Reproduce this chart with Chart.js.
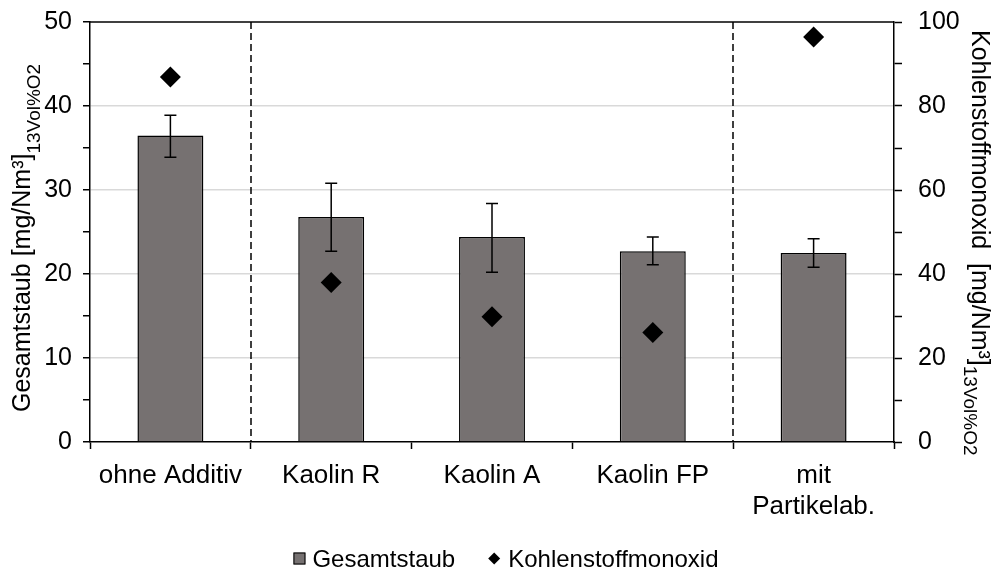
<!DOCTYPE html>
<html>
<head>
<meta charset="utf-8">
<script src="https://cdn.jsdelivr.net/npm/chart.js@4"></script>
<style>
html,body{margin:0;padding:0;background:#fff;}
#wrap{width:991px;height:569px;}
</style>
</head>
<body>
<div id="wrap"><canvas id="c" width="991" height="569"></canvas></div>
<script>
// ---- data ----
const categories = ['ohne Additiv', 'Kaolin R', 'Kaolin A', 'Kaolin FP', ['mit', 'Partikelab.']];
const staub = [36.5, 26.8, 24.4, 22.7, 22.5];
const staubLow = [33.9, 22.7, 20.2, 21.1, 20.8];
const staubHigh = [38.9, 30.8, 28.4, 24.4, 24.2];
const co = [86.9, 38.0, 29.8, 26.1, 96.4];
const separatorsAfter = [0, 3];
const seriesNames = ['Gesamtstaub', 'Kohlenstoffmonoxid'];
const leftTitle = ['Gesamtstaub [mg/Nm³]', '13Vol%O2'];
const rightTitle = ['Kohlenstoffmonoxid  [mg/Nm³]', '13Vol%O2'];

const FONT = "'Liberation Sans', Arial, sans-serif";
const BAR_FILL = '#767171';
const TARGET_TOP = 22;

const extras = {
  id: 'extras',
  afterDatasetsDraw(chart) {
    const ctx = chart.ctx, x = chart.scales.x, y = chart.scales.y, a = chart.chartArea;
    ctx.save();
    ctx.strokeStyle = '#000';
    ctx.lineWidth = 1.5;
    ctx.setLineDash([7, 4]);
    separatorsAfter.forEach(i => {
      const px = Math.round((x.getPixelForValue(i) + x.getPixelForValue(i + 1)) / 2);
      ctx.beginPath();
      ctx.moveTo(px, a.top);
      ctx.lineTo(px, a.bottom);
      ctx.stroke();
    });
    ctx.setLineDash([]);
    ctx.lineWidth = 1.5;
    staub.forEach((v, i) => {
      const px = x.getPixelForValue(i);
      const yl = y.getPixelForValue(staubLow[i]);
      const yh = y.getPixelForValue(staubHigh[i]);
      ctx.beginPath();
      ctx.moveTo(px, yl); ctx.lineTo(px, yh);
      ctx.moveTo(px - 6, yl); ctx.lineTo(px + 6, yl);
      ctx.moveTo(px - 6, yh); ctx.lineTo(px + 6, yh);
      ctx.stroke();
    });
    ctx.beginPath();
    ctx.moveTo(a.left, a.top); ctx.lineTo(a.right, a.top);
    ctx.stroke();
    ctx.restore();
  },
  afterDraw(chart) {
    const ctx = chart.ctx, a = chart.chartArea;
    ctx.save();
    ctx.fillStyle = '#000';
    ctx.textBaseline = 'alphabetic';
    ctx.textAlign = 'left';
    ctx.save();
    ctx.translate(30, 412);
    ctx.rotate(-Math.PI / 2);
    ctx.font = '25px ' + FONT;
    ctx.fillText(leftTitle[0], 0, 0);
    let w = ctx.measureText(leftTitle[0]).width;
    ctx.font = '19px ' + FONT;
    ctx.fillText(leftTitle[1], w, 10);
    ctx.restore();
    ctx.save();
    ctx.translate(972, 30);
    ctx.rotate(Math.PI / 2);
    ctx.font = '25px ' + FONT;
    ctx.fillText(rightTitle[0], 0, 0);
    w = ctx.measureText(rightTitle[0]).width;
    ctx.font = '19px ' + FONT;
    ctx.fillText(rightTitle[1], w, 8);
    ctx.restore();
    ctx.font = '24px ' + FONT;
    const w1 = ctx.measureText(seriesNames[0]).width;
    const w2 = ctx.measureText(seriesNames[1]).width;
    const total = 12 + 7 + w1 + 33 + 12 + 8 + w2;
    const cx = (a.left + a.right) / 2 + 14;
    let lx = cx - total / 2;
    const ly = 558.5;
    ctx.fillStyle = BAR_FILL;
    ctx.fillRect(lx, ly - 6, 12, 12);
    ctx.strokeStyle = '#000';
    ctx.lineWidth = 1;
    ctx.strokeRect(lx + 0.5, ly - 5.5, 11, 11);
    ctx.fillStyle = '#000';
    ctx.fillText(seriesNames[0], lx + 19, 567);
    lx += 19 + w1 + 33;
    ctx.beginPath();
    ctx.moveTo(lx, ly); ctx.lineTo(lx + 6, ly - 6); ctx.lineTo(lx + 12, ly); ctx.lineTo(lx + 6, ly + 6);
    ctx.closePath();
    ctx.fill();
    ctx.fillText(seriesNames[1], lx + 20, 567);
    ctx.restore();
  }
};

function fixV(width) {
  return function (s) { s.width = width; s.paddingTop = 0; s.paddingBottom = 0; };
}

const chart = new Chart(document.getElementById('c'), {
  type: 'bar',
  data: {
    labels: categories,
    datasets: [
      {
        label: seriesNames[0],
        data: staub,
        yAxisID: 'y',
        backgroundColor: BAR_FILL,
        borderColor: '#000',
        borderWidth: 1.5,
        barPercentage: 0.41,
        categoryPercentage: 1,
        order: 2
      },
      {
        type: 'line',
        label: seriesNames[1],
        data: co,
        yAxisID: 'y1',
        showLine: false,
        pointStyle: 'rectRot',
        pointRadius: 10.5,
        pointHoverRadius: 10.5,
        backgroundColor: '#000',
        borderColor: '#000',
        borderWidth: 0,
        order: 1
      }
    ]
  },
  options: {
    responsive: false,
    animation: false,
    devicePixelRatio: 1,
    layout: { padding: { top: TARGET_TOP, left: 0, right: 0, bottom: 0 } },
    plugins: { legend: { display: false }, tooltip: { enabled: false } },
    scales: {
      x: {
        offset: true,
        grid: { offset: true, drawOnChartArea: false, drawTicks: true, tickLength: 7, tickColor: '#000', tickWidth: 1.5 },
        border: { color: '#000', width: 1.5 },
        ticks: { color: '#000', font: { family: FONT, size: 26 }, padding: 11, maxRotation: 0, autoSkip: false },
        afterFit(s) { s.height = 127; s.paddingLeft = 0; s.paddingRight = 0; }
      },
      y: {
        position: 'left',
        min: 0, max: 50,
        ticks: {
          stepSize: 5, color: '#000', padding: 11,
          font: { family: FONT, size: 25 },
          callback: v => (v % 10 === 0 ? v : '')
        },
        grid: {
          color: c => (c.tick && c.tick.value % 10 === 0 && c.tick.value > 0 && c.tick.value < 50) ? '#d9d9d9' : 'rgba(0,0,0,0)',
          lineWidth: 1.5,
          tickColor: '#000', tickWidth: 1.5, tickLength: 7
        },
        border: { color: '#000', width: 1.5 },
        afterFit: fixV(90)
      },
      y1: {
        position: 'right',
        min: 0, max: 100,
        ticks: {
          stepSize: 10, color: '#000', padding: 16,
          font: { family: FONT, size: 25 },
          callback: v => (v % 20 === 0 ? v : '')
        },
        grid: { drawOnChartArea: false, tickColor: '#000', tickWidth: 1.5, tickLength: 8 },
        border: { color: '#000', width: 1.5 },
        afterFit: fixV(97)
      }
    }
  },
  plugins: [extras]
});
const d = TARGET_TOP - chart.chartArea.top;
if (Math.abs(d) > 0.5) {
  chart.options.layout.padding.top = Math.max(0, TARGET_TOP + d);
  chart.update();
}
</script>
</body>
</html>
